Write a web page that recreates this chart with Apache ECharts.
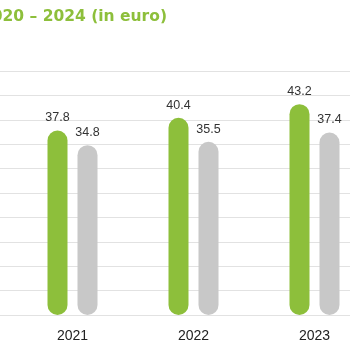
<!DOCTYPE html>
<html>
<head>
<meta charset="utf-8">
<script src="https://cdn.jsdelivr.net/npm/echarts@6/dist/echarts.min.js"></script>
<style>
  html, body { margin: 0; padding: 0; background: #fff; }
  #chart { width: 350px; height: 350px; }
</style>
</head>
<body>
<div id="chart"></div>
<script>
// years 2020 and 2024 fall outside the visible crop
const years = ['2020', '2021', '2022', '2023', '2024'];
const greenValues = [null, 37.8, 40.4, 43.2, null];
const greyValues = [null, 34.8, 35.5, 37.4, null];
const titleText = '2020 – 2024 (in euro)';

const chart = echarts.init(document.getElementById('chart'));

const labelStyle = {
  show: true,
  position: 'top',
  distance: 6,
  color: '#333',
  fontFamily: 'Liberation Sans',
  fontSize: 12.5
};

chart.setOption({
  animation: false,
  backgroundColor: '#fff',
  // title is cropped on the left in the reference, so place it by hand
  graphic: [{
    type: 'text',
    x: -19,
    y: 17,
    style: {
      text: titleText,
      fill: '#8dbf3b',
      font: 'bold 15.5px "DejaVu Sans"',
      verticalAlign: 'middle'
    }
  }],
  grid: {
    outerBoundsMode: 'none',
    left: -109,
    width: 605,
    top: 71,
    bottom: 35
  },
  xAxis: {
    type: 'category',
    data: years,
    axisLine: { show: false },
    axisTick: { show: false },
    axisLabel: {
      color: '#222',
      fontFamily: 'Liberation Sans',
      fontSize: 14,
      margin: 14
    }
  },
  yAxis: {
    type: 'value',
    min: 0,
    max: 50,
    interval: 5,
    axisLabel: { show: false },
    axisLine: { show: false },
    axisTick: { show: false },
    splitLine: { lineStyle: { color: '#e2e2e2', width: 1 } }
  },
  series: [
    {
      type: 'bar',
      data: greenValues,
      barWidth: 20,
      barGap: '50%',
      itemStyle: { color: '#8dbf3b', borderRadius: 10 },
      label: labelStyle
    },
    {
      type: 'bar',
      data: greyValues,
      barWidth: 20,
      itemStyle: { color: '#c8c8c8', borderRadius: 10 },
      label: labelStyle
    }
  ]
});
</script>
</body>
</html>
